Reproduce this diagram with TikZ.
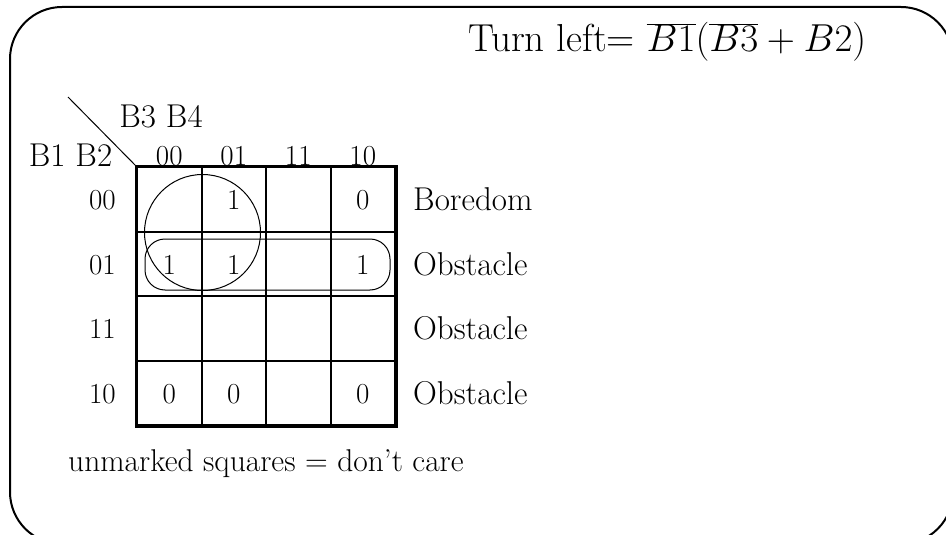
\documentclass[tikz,border=0pt]{standalone}
\usepackage{fix-cm}
\usepackage{fontspec}
\usetikzlibrary{positioning}
\newcommand{\digitsize}{\fontsize{29}{35}\selectfont}
\newcommand{\wordsize}{\fontsize{33}{40}\selectfont}
\tikzstyle{cell} = [rectangle, minimum width=64.5pt, minimum height=64.5pt, inner sep=0pt, draw=black, line width=2pt, text centered, text height=21pt, text depth=0pt]
\tikzstyle{rowlabel} = [anchor=east, inner sep=0pt, xshift=-20pt, text height=21pt, text depth=0pt]
\tikzstyle{action} = [anchor=west, inner sep=0pt, xshift=17pt, font=\wordsize]
\tikzstyle{colhead} = [anchor=south, inner sep=0pt]
\tikzstyle{heading} = [anchor=base, inner sep=0pt, font=\wordsize]
\tikzstyle{group} = [line width=1pt]

\begin{document}
\begin{tikzpicture}[x=1pt, y=-1pt, node distance=64.5pt, font=\digitsize]
      \useasboundingbox (0,0) rectangle (946,535);
      \clip (0,0) rectangle (946,535);

      % Frame
      \draw [line width=2pt, rounded corners=52pt] (10,7) rectangle (953,544);

      \node (title) [anchor=base west, inner sep=0pt, font=\fontsize{39}{46}\selectfont] at (468,52) {Turn left= $\overline{B1}(\overline{B3}+B2)$};

      % Map cells
      \node (a1) [cell] at (169.25,199.25) {};
      \node (a2) [cell, right of=a1] {1};
      \node (a3) [cell, right of=a2] {};
      \node (a4) [cell, right of=a3] {0};
      \node (b1) [cell, below of=a1] {1};
      \node (b2) [cell, right of=b1] {1};
      \node (b3) [cell, right of=b2] {};
      \node (b4) [cell, right of=b3] {1};
      \node (c1) [cell, below of=b1] {};
      \node (c2) [cell, right of=c1] {};
      \node (c3) [cell, right of=c2] {};
      \node (c4) [cell, right of=c3] {};
      \node (d1) [cell, below of=c1] {0};
      \node (d2) [cell, right of=d1] {0};
      \node (d3) [cell, right of=d2] {};
      \node (d4) [cell, right of=d3] {0};
      \draw [line width=3pt] (a1.north west) rectangle (d4.south east);

      % Headings
      \node (h00) [colhead] at (a1.north) {00};
      \node (h01) [colhead] at (a2.north) {01};
      \node (h11) [colhead] at (a3.north) {11};
      \node (h10) [colhead] at (a4.north) {10};
      \node (r00) [rowlabel] at (a1.west) {00};
      \node (r01) [rowlabel] at (b1.west) {01};
      \node (r11) [rowlabel] at (c1.west) {11};
      \node (r10) [rowlabel] at (d1.west) {10};
      \node (cols) [heading] at (161,128) {B3 B4};
      \node (rows) [heading] at (70.5,166) {B1 B2};
      \coordinate (corner) at (68,97);
      \draw [group] (corner) -- (a1.north west);

      % Behaviours
      \node (boredom) [action] at (a4.east) {Boredom};
      \node (obst1) [action] at (b4.east) {Obstacle};
      \node (obst2) [action] at (c4.east) {Obstacle};
      \node (obst3) [action] at (d4.east) {Obstacle};

      % Groups
      \draw [group] (a1.south east) circle [radius=58pt];
      \draw [group, rounded corners=20pt] (145,239) rectangle (390,290);

      \node (note) [anchor=base west, inner sep=0pt, font=\fontsize{31.5}{38}\selectfont] at (68,471) {unmarked squares = don't care};

      \end{tikzpicture}
\end{document}
